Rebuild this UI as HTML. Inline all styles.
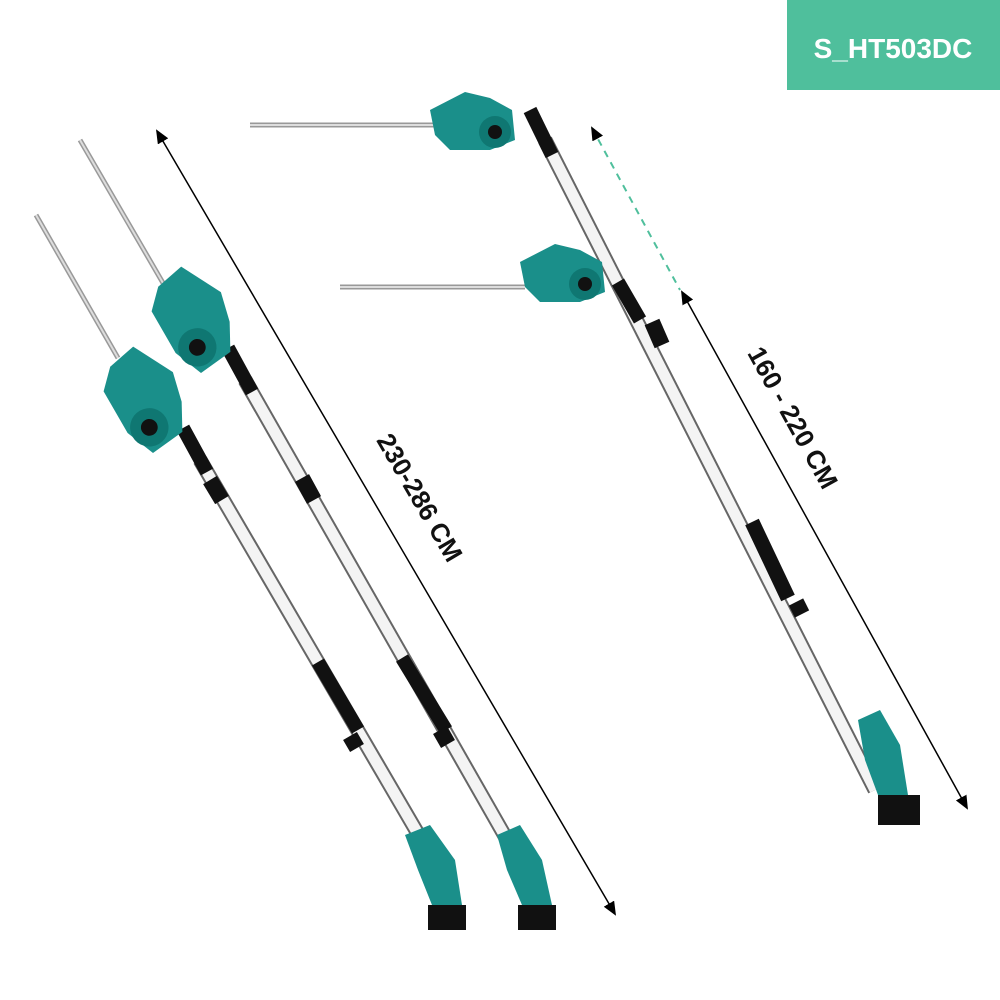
<!DOCTYPE html>
<html><head><meta charset="utf-8"><style>
html,body{margin:0;padding:0;background:#fff;}
svg{display:block;}
</style></head><body>
<svg width="1000" height="1000" viewBox="0 0 1000 1000" xmlns="http://www.w3.org/2000/svg">
<defs>
<marker id="ah" markerWidth="14" markerHeight="12" refX="12" refY="6" orient="auto-start-reverse" markerUnits="userSpaceOnUse">
<path d="M0,0 L14,6 L0,12 z" fill="#000"/></marker>
<g id="head">
<path d="M0,0 L35,-18 L60,-12 L82,0 L85,30 L60,40 L20,40 L5,25 z" fill="#1a8f8a"/>
<circle cx="65" cy="22" r="16" fill="#0f7772"/><circle cx="65" cy="22" r="7" fill="#111"/>
</g>
</defs>
<rect width="1000" height="1000" fill="#fff"/>
<rect x="787" y="0" width="213" height="90" fill="#4fbf9c"/>
<text x="893" y="58" font-family="Liberation Sans, sans-serif" font-weight="bold" font-size="28" fill="#fff" text-anchor="middle">S_HT503DC</text>

<line x1="157" y1="131" x2="615" y2="914" stroke="#000" stroke-width="1.5" marker-start="url(#ah)" marker-end="url(#ah)"/>
<text transform="translate(412,502) rotate(59.7)" font-family="Liberation Sans, sans-serif" font-weight="bold" font-size="26" text-anchor="middle" fill="#111">230-286 CM</text>
<line x1="592" y1="128" x2="680" y2="290" stroke="#4fbf9c" stroke-width="2" stroke-dasharray="7,6" marker-start="url(#ah)"/>
<line x1="682" y1="292" x2="967" y2="808" stroke="#000" stroke-width="1.5" marker-start="url(#ah)" marker-end="url(#ah)"/>
<text transform="translate(785,422) rotate(61)" font-family="Liberation Sans, sans-serif" font-weight="bold" font-size="26" text-anchor="middle" fill="#111">160 - 220 CM</text>

<!-- Tool A -->
<line x1="36" y1="215" x2="118" y2="358" stroke="#999" stroke-width="5"/>
<line x1="36" y1="215" x2="118" y2="358" stroke="#ddd" stroke-width="2"/>
<line x1="200" y1="460" x2="445" y2="880" stroke="#666" stroke-width="15"/>
<line x1="200" y1="460" x2="445" y2="880" stroke="#f4f4f4" stroke-width="11"/>
<line x1="183" y1="428" x2="207" y2="472" stroke="#111" stroke-width="14"/>
<line x1="210" y1="480" x2="222" y2="500" stroke="#111" stroke-width="16"/>
<line x1="318" y1="662" x2="358" y2="730" stroke="#111" stroke-width="14"/>
<line x1="350" y1="736" x2="357" y2="748" stroke="#111" stroke-width="16"/>
<g transform="translate(108,375) rotate(60) scale(1.2) translate(-10,-30)"><use href="#head"/></g>
<path d="M405,835 L430,825 L455,860 L462,905 L432,905 L418,870 z" fill="#1a8f8a"/>
<rect x="428" y="905" width="38" height="25" fill="#111"/>

<!-- Tool B -->
<line x1="80" y1="140" x2="163" y2="283" stroke="#999" stroke-width="5"/>
<line x1="80" y1="140" x2="163" y2="283" stroke="#ddd" stroke-width="2"/>
<line x1="245" y1="380" x2="530" y2="880" stroke="#666" stroke-width="15"/>
<line x1="245" y1="380" x2="530" y2="880" stroke="#f4f4f4" stroke-width="11"/>
<line x1="228" y1="348" x2="252" y2="392" stroke="#111" stroke-width="14"/>
<line x1="302" y1="478" x2="314" y2="500" stroke="#111" stroke-width="16"/>
<line x1="402" y1="658" x2="446" y2="730" stroke="#111" stroke-width="14"/>
<line x1="440" y1="730" x2="448" y2="744" stroke="#111" stroke-width="16"/>
<g transform="translate(156,295) rotate(60) scale(1.2) translate(-10,-30)"><use href="#head"/></g>
<path d="M497,835 L520,825 L542,860 L552,905 L522,905 L507,870 z" fill="#1a8f8a"/>
<rect x="518" y="905" width="38" height="25" fill="#111"/>

<!-- Tool C -->
<line x1="545" y1="140" x2="875" y2="790" stroke="#666" stroke-width="15"/>
<line x1="545" y1="140" x2="875" y2="790" stroke="#f4f4f4" stroke-width="11"/>
<line x1="530" y1="110" x2="552" y2="155" stroke="#111" stroke-width="14"/>
<line x1="652" y1="322" x2="662" y2="345" stroke="#111" stroke-width="16"/>
<line x1="752" y1="522" x2="788" y2="598" stroke="#111" stroke-width="15"/>
<line x1="796" y1="602" x2="802" y2="614" stroke="#111" stroke-width="16"/>
<line x1="250" y1="125" x2="440" y2="125" stroke="#999" stroke-width="5"/>
<line x1="250" y1="125" x2="440" y2="125" stroke="#ddd" stroke-width="2"/>
<g transform="translate(430,110)"><use href="#head"/></g>
<line x1="340" y1="287" x2="525" y2="287" stroke="#999" stroke-width="5"/>
<line x1="340" y1="287" x2="525" y2="287" stroke="#ddd" stroke-width="2"/>
<g transform="translate(520,262)"><use href="#head"/></g>
<line x1="618" y1="282" x2="640" y2="320" stroke="#111" stroke-width="14"/>
<path d="M858,720 L880,710 L900,745 L908,795 L878,795 L865,760 z" fill="#1a8f8a"/>
<rect x="878" y="795" width="42" height="30" fill="#111"/>
</svg>
</body></html>
